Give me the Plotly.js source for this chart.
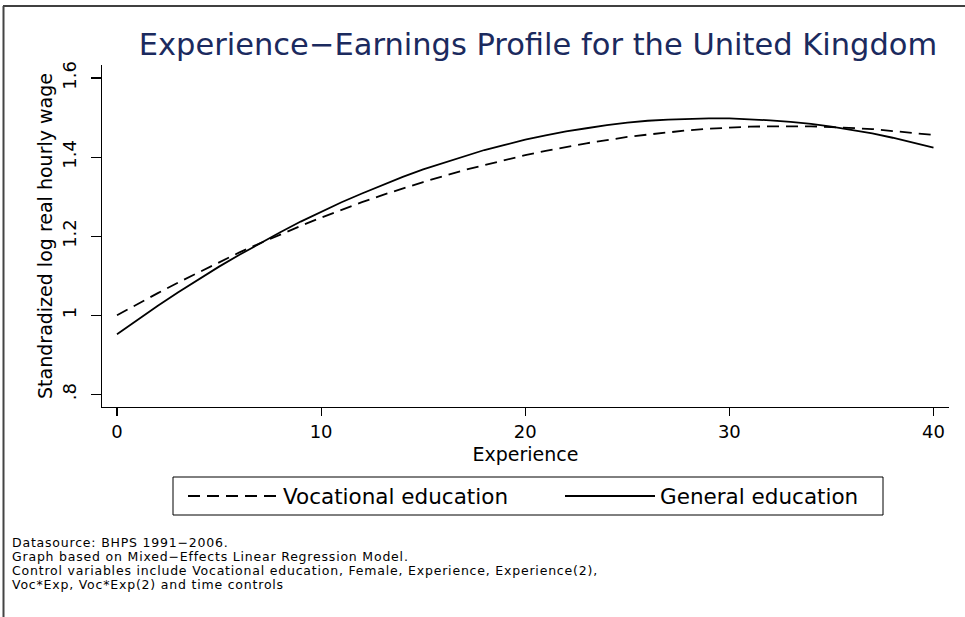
<!DOCTYPE html>
<html>
<head>
<meta charset="utf-8">
<script src="https://cdn.plot.ly/plotly-3.0.1.min.js"></script>
<style>
html,body{margin:0;padding:0;background:#fff;}
#chart{width:965px;height:617px;}
.annotation-text{letter-spacing:0.8px;}
</style>
</head>
<body>
<div id="chart"></div>
<script>
// ---- data ----
const experience = [0,1,2,3,4,5,6,7,8,9,10,11,12,13,14,15,16,17,18,19,20,21,22,23,24,25,26,27,28,29,30,31,32,33,34,35,36,37,38,39,40];
const vocational = [1.000,1.029,1.056,1.083,1.109,1.134,1.159,1.182,1.205,1.226,1.247,1.267,1.286,1.304,1.321,1.337,1.352,1.367,1.380,1.393,1.405,1.416,1.426,1.435,1.443,1.451,1.457,1.463,1.468,1.472,1.475,1.477,1.478,1.478,1.478,1.476,1.474,1.471,1.466,1.461,1.456];
const general    = [0.952,0.989,1.024,1.058,1.091,1.123,1.153,1.182,1.210,1.237,1.262,1.286,1.308,1.330,1.350,1.369,1.386,1.403,1.418,1.431,1.444,1.455,1.465,1.473,1.481,1.487,1.492,1.495,1.497,1.498,1.498,1.496,1.493,1.489,1.484,1.477,1.469,1.460,1.449,1.437,1.424];
const seriesNames = ["Vocational education", "General education"];
const yTickVals = [0.8, 1.0, 1.2, 1.4, 1.6];
const yTickText = [".8", "1", "1.2", "1.4", "1.6"];
const xTickVals = [0, 10, 20, 30, 40];
const titleText = "Experience\u2212Earnings Profile for the United Kingdom";
const xTitle = "Experience";
const yTitle = "Standradized log real hourly wage";
const notes = [
  "Datasource: BHPS 1991\u22122006.",
  "Graph based on Mixed\u2212Effects Linear Regression Model.",
  "Control variables include Vocational education, Female, Experience, Experience(2),",
  "Voc*Exp, Voc*Exp(2) and time controls"
];

// ---- layout geometry (pixels) ----
const W = 965, H = 617;
const L = 102, R = 949, T = 65, B = 407;
const FONT = "DejaVu Sans, Liberation Sans, Arial, sans-serif";
const px = x => (x - L) / (R - L);
const py = y => (B - y) / (B - T);

const traces = [
  {x: experience, y: vocational, name: seriesNames[0], type: "scatter", mode: "lines",
   legend: "legend", line: {color: "#000", width: 1.8, dash: "12px,7px"}},
  {x: experience, y: general, name: seriesNames[1], type: "scatter", mode: "lines",
   legend: "legend2", line: {color: "#000", width: 1.8}}
];

const noteY = [542, 556, 570, 584];
const annotations = notes.map((t, i) => ({
  text: t, xref: "paper", yref: "paper", x: px(10), y: py(noteY[i]),
  xanchor: "left", yanchor: "middle", showarrow: false,
  font: {family: FONT, size: 12.5, color: "#000"}
}));

const shapes = [
  // page border lines
  {type: "line", xref: "paper", yref: "paper", x0: px(3), x1: px(965), y0: py(6), y1: py(6),
   line: {color: "#000", width: 1.5}},
  {type: "line", xref: "paper", yref: "paper", x0: px(3.5), x1: px(3.5), y0: py(6), y1: py(617),
   line: {color: "#444", width: 2}},
  // legend box
  {type: "rect", xref: "paper", yref: "paper", x0: px(173), x1: px(883), y0: py(477), y1: py(515),
   line: {color: "#000", width: 1}}
];

const legendCommon = {orientation: "h", yanchor: "middle", y: py(496), xanchor: "left",
  bgcolor: "rgba(0,0,0,0)", borderwidth: 0, itemwidth: 90,
  font: {family: FONT, size: 21.5, color: "#000"}};

const layout = {
  width: W, height: H,
  margin: {l: L, r: W - R, t: T, b: H - B, pad: 0},
  paper_bgcolor: "#fff", plot_bgcolor: "#fff",
  font: {family: FONT, color: "#000"},
  title: {text: titleText, font: {family: FONT, size: 30.5, color: "#1b2a5e"},
          x: 538 / W, xref: "container", xanchor: "center",
          y: 1 - 44 / H, yref: "container", yanchor: "middle"},
  xaxis: {range: [-0.735, 40.76], showgrid: false, zeroline: false,
          showline: true, linecolor: "#000", linewidth: 1.3,
          ticks: "outside", ticklen: 8, tickwidth: 1.2, tickcolor: "#000",
          tickvals: xTickVals, tickfont: {family: FONT, size: 18},
          title: {text: xTitle, font: {family: FONT, size: 19}, standoff: 6}},
  yaxis: {range: [0.768, 1.633], showgrid: false, zeroline: false,
          showline: true, linecolor: "#000", linewidth: 1.3,
          ticks: "outside", ticklen: 10, tickwidth: 1.2, tickcolor: "#000",
          tickvals: yTickVals, ticktext: yTickText, tickangle: -90,
          ticklabelstandoff: 8,
          tickfont: {family: FONT, size: 18},
          title: {text: yTitle, font: {family: FONT, size: 19}, standoff: 1}},
  showlegend: true,
  legend: Object.assign({}, legendCommon, {x: px(183)}),
  legend2: Object.assign({}, legendCommon, {x: px(560)}),
  annotations: annotations,
  shapes: shapes
};

Plotly.newPlot("chart", traces, layout, {displayModeBar: false, staticPlot: true});
</script>
</body>
</html>
